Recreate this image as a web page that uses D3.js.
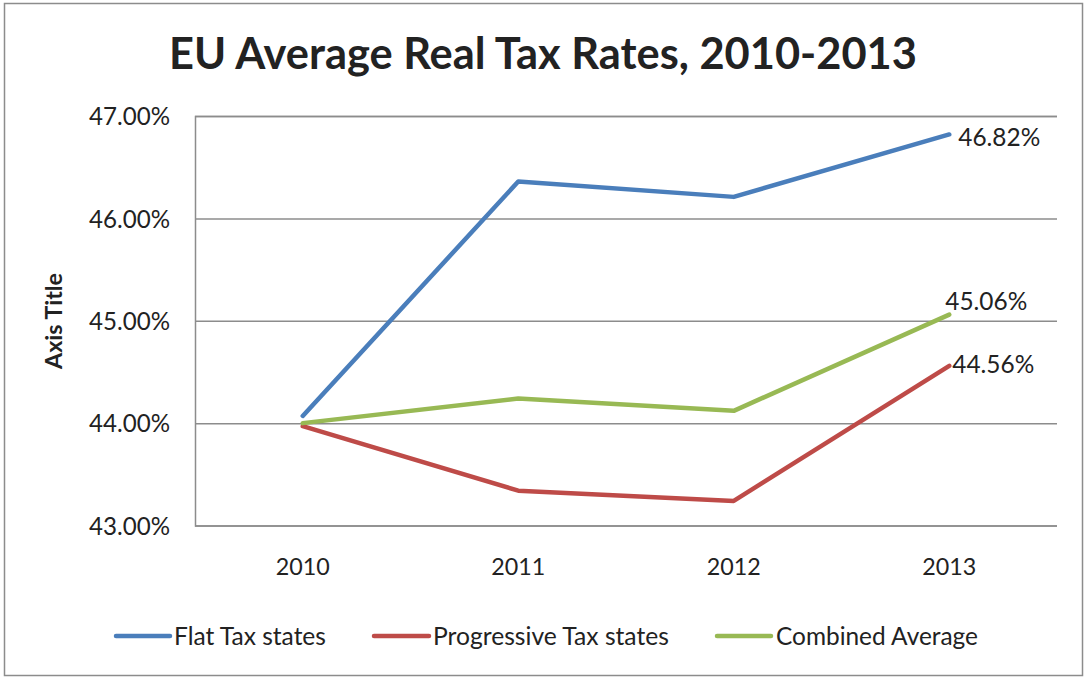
<!DOCTYPE html>
<html>
<head>
<meta charset="utf-8">
<script src="https://cdn.jsdelivr.net/npm/d3@7"></script>
<style>
  html, body { margin: 0; padding: 0; background: #fff; }
  svg { display: block; }
  text { font-family: Lato, "Open Sans", "Liberation Sans", sans-serif; fill: #222; }
</style>
</head>
<body>
<svg id="chart" width="1084" height="677"></svg>
<script>
// Chart content
const titleText = "EU Average Real Tax Rates, 2010-2013";
const yAxisTitle = "Axis Title";
const years = ["2010", "2011", "2012", "2013"];
const yTicks = [43, 44, 45, 46, 47];

const seriesNames = ["Flat Tax states", "Progressive Tax states", "Combined Average"];
const seriesColors = ["#4a7ebb", "#be4b48", "#98b954"];
const flatTax = [44.07, 46.36, 46.21, 46.82];
const progressiveTax = [43.97, 43.34, 43.24, 44.56];
const combinedAvg = [44.00, 44.24, 44.12, 45.06];
const seriesValues = [flatTax, progressiveTax, combinedAvg];

const svg = d3.select("#chart");
const W = 1084, H = 677;
const plot = { left: 195, right: 1057, top: 116, bottom: 525.5 };

// Outer frame
svg.append("rect")
  .attr("x", 4.5).attr("y", 3.5).attr("width", W - 6).attr("height", H - 5)
  .attr("fill", "#fff").attr("stroke", "#8c8c8c").attr("stroke-width", 1.5);

// Shrink/stretch helper so text spans a given width
function fitWidth(sel, target) {
  const node = sel.node();
  const w = node.getComputedTextLength();
  const fs = parseFloat(sel.attr("font-size"));
  sel.attr("font-size", (fs * target / w).toFixed(2));
}

// Scales
const x = d3.scaleBand().domain(years).range([plot.left, plot.right]);
const y = d3.scaleLinear().domain([43, 47]).range([plot.bottom, plot.top]);
const fmt = v => v.toFixed(2) + "%";

// Title
const title = svg.append("text")
  .attr("x", 543).attr("y", 69)
  .attr("text-anchor", "middle")
  .attr("font-weight", 700).attr("font-size", 40)
  .text(titleText);
fitWidth(title, 748);

// Horizontal gridlines
const yAxis = d3.axisLeft(y).tickValues(yTicks).tickSize(-(plot.right - plot.left)).tickFormat(fmt).tickPadding(25);
const gy = svg.append("g").attr("transform", `translate(${plot.left},0)`).call(yAxis);
gy.select(".domain").attr("stroke", "#8c8c8c").attr("stroke-width", 1.5);
gy.selectAll(".tick line").attr("stroke", "#8c8c8c").attr("stroke-width", 1.5);
gy.selectAll(".tick text")
  .attr("font-family", "Lato, 'Open Sans', sans-serif")
  .attr("font-size", 21).attr("fill", "#222")
  .attr("dy", "0.36em")
  .each(function () { fitWidth(d3.select(this), 81); });
gy.selectAll(".tick text").attr("x", -25);

// X axis labels
const xAxis = d3.axisBottom(x).tickSize(0).tickPadding(0);
const gx = svg.append("g").attr("transform", `translate(0,${plot.bottom})`).call(xAxis);
gx.select(".domain").remove();
gx.selectAll(".tick text")
  .attr("font-family", "Lato, 'Open Sans', sans-serif")
  .attr("font-size", 21).attr("fill", "#222")
  .attr("y", 49).attr("dy", 0)
  .each(function () { fitWidth(d3.select(this), 54); });

// Y axis title
const yt = svg.append("text")
  .attr("transform", "translate(62,321) rotate(-90)")
  .attr("text-anchor", "middle")
  .attr("font-weight", 700).attr("font-size", 20)
  .text(yAxisTitle);
fitWidth(yt, 96);

// Lines
const cx = d => x(d) + x.bandwidth() / 2;
const line = d3.line().x((d, i) => cx(years[i])).y(d => y(d));
seriesValues.forEach((vals, k) => {
  svg.append("path")
    .datum(vals)
    .attr("d", line)
    .attr("fill", "none")
    .attr("stroke", seriesColors[k])
    .attr("stroke-width", 4.5)
    .attr("stroke-linejoin", "round")
    .attr("stroke-linecap", "round");
});

// End-point value labels
const labelOffsets = [[9, 3], [3, -2], [-4, -13]];
seriesValues.forEach((vals, k) => {
  const last = vals[vals.length - 1];
  const t = svg.append("text")
    .attr("x", cx(years[3]) + labelOffsets[k][0])
    .attr("y", y(last) + labelOffsets[k][1])
    .attr("dy", "0.36em")
    .attr("font-size", 21)
    .text(fmt(last));
  fitWidth(t, 82);
});

// Legend
const legendY = 636;
const legendItems = [
  { x0: 116, x1: 170, tx: 174, w: 152 },
  { x0: 374, x1: 429, tx: 433, w: 236 },
  { x0: 717, x1: 771, tx: 776, w: 202 }
];
legendItems.forEach((it, k) => {
  svg.append("line")
    .attr("x1", it.x0).attr("x2", it.x1)
    .attr("y1", legendY).attr("y2", legendY)
    .attr("stroke", seriesColors[k]).attr("stroke-width", 4.5)
    .attr("stroke-linecap", "round");
  const t = svg.append("text")
    .attr("x", it.tx).attr("y", legendY).attr("dy", "0.36em")
    .attr("font-size", 21)
    .text(seriesNames[k]);
  fitWidth(t, it.w);
});
</script>
</body>
</html>
